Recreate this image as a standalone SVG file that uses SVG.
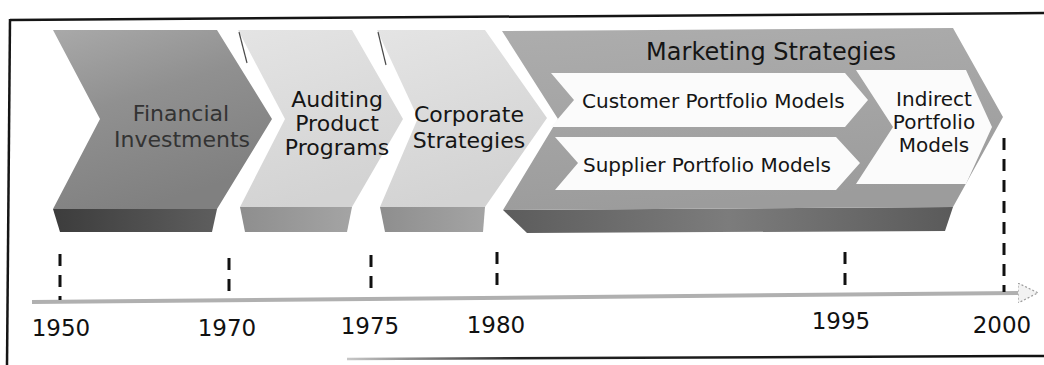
<svg xmlns="http://www.w3.org/2000/svg" width="1044" height="365" viewBox="0 0 1044 365">
  <defs>
    <style>
      .lbl { font-family: "DejaVu Sans", Verdana, "Liberation Sans", sans-serif; fill: #151515; }
      .stage { font-size: 22px; text-anchor: middle; }
      .dim { fill: #333333; }
      .sub { font-size: 20px; }
      .year { font-size: 23px; text-anchor: middle; fill: #111; }
      .tick { stroke: #111; stroke-width: 3; stroke-dasharray: 12 9; fill: none; }
      .inner { fill: #fbfbfb; }
      .edge { stroke: #4a4a4a; stroke-width: 1.2; fill: none; }
    </style>
    <linearGradient id="finFace" x1="0" y1="0" x2="0.4" y2="1">
      <stop offset="0" stop-color="#a9a9a9"/>
      <stop offset="0.45" stop-color="#909090"/>
      <stop offset="1" stop-color="#808080"/>
    </linearGradient>
    <linearGradient id="finBand" x1="0" y1="0" x2="1" y2="0">
      <stop offset="0" stop-color="#3c3c3c"/>
      <stop offset="1" stop-color="#5e5e5e"/>
    </linearGradient>
    <linearGradient id="lightFace" x1="0" y1="0" x2="0.3" y2="1">
      <stop offset="0" stop-color="#e4e4e4"/>
      <stop offset="1" stop-color="#d3d3d3"/>
    </linearGradient>
    <linearGradient id="lightBand" x1="0" y1="0" x2="1" y2="0">
      <stop offset="0" stop-color="#8e8e8e"/>
      <stop offset="1" stop-color="#a4a4a4"/>
    </linearGradient>
    <linearGradient id="mktFace" x1="0" y1="0" x2="0.2" y2="1">
      <stop offset="0" stop-color="#adadad"/>
      <stop offset="1" stop-color="#9c9c9c"/>
    </linearGradient>
    <linearGradient id="mktBand" x1="0" y1="0" x2="1" y2="0">
      <stop offset="0" stop-color="#5c5c5c"/>
      <stop offset="0.5" stop-color="#7c7c7c"/>
      <stop offset="1" stop-color="#5a5a5a"/>
    </linearGradient>
    <linearGradient id="baseLine" x1="347" y1="0" x2="1044" y2="0" gradientUnits="userSpaceOnUse">
      <stop offset="0" stop-color="#c8c8c8"/>
      <stop offset="0.25" stop-color="#222"/>
      <stop offset="1" stop-color="#111"/>
    </linearGradient>
    <marker id="axisHead" viewBox="0 0 10 10" refX="1" refY="5" markerWidth="5" markerHeight="5" orient="auto" markerUnits="strokeWidth">
      <path d="M0,0 L10,5 L0,10 Z" fill="#f2f2f2" stroke="#9a9a9a" stroke-width="0.6" stroke-dasharray="1 1"/>
    </marker>
  </defs>

  <rect width="1044" height="365" fill="#ffffff"/>

  <!-- frame -->
  <g id="frame" fill="none" stroke-linecap="butt">
    <line x1="10" y1="20" x2="1044" y2="13" stroke="#151515" stroke-width="2.5"/>
    <line x1="10" y1="19" x2="7" y2="365" stroke="#151515" stroke-width="2.5"/>
    <line x1="347" y1="359" x2="1044" y2="356" stroke="url(#baseLine)" stroke-width="2.5"/>
  </g>

  <!-- stage 1 -->
  <g id="financial">
    <polygon points="53,209 217,209 212,232 60,232" fill="url(#finBand)"/>
    <polygon points="53,30 217,30 272,119 217,209 53,209 100,119" fill="url(#finFace)"/>
    <text class="lbl stage dim" x="181" y="121">Financial</text>
    <text class="lbl stage dim" x="182" y="147">Investments</text>
  </g>

  <!-- stage 2 -->
  <g id="auditing">
    <polygon points="240,207 352,207 347,232 245,232" fill="url(#lightBand)"/>
    <polygon points="238,30 352,30 403,119 352,207 240,207 285,119" fill="url(#lightFace)"/>
    <line class="edge" x1="239" y1="32" x2="247" y2="63"/>
    <text class="lbl stage" x="337" y="107">Auditing</text>
    <text class="lbl stage" x="337" y="131">Product</text>
    <text class="lbl stage" x="337" y="155">Programs</text>
  </g>

  <!-- stage 3 -->
  <g id="corporate">
    <polygon points="380,207 485,207 483,232 385,232" fill="url(#lightBand)"/>
    <polygon points="377,30 485,30 547,118 485,207 380,207 418,118" fill="url(#lightFace)"/>
    <line class="edge" x1="378" y1="32" x2="386" y2="65"/>
    <text class="lbl stage" x="469" y="122">Corporate</text>
    <text class="lbl stage" x="469" y="148">Strategies</text>
  </g>

  <!-- stage 4 with its sub-models -->
  <g id="marketing">
    <polygon points="503,210 953,207 945,231 527,233" fill="url(#mktBand)"/>
    <polygon points="502,31 953,28 1003,117 953,207 503,210 558,119" fill="url(#mktFace)"/>
    <text class="lbl" x="771" y="60" font-size="24" text-anchor="middle">Marketing Strategies</text>
    <g id="customer">
      <polygon class="inner" points="551,73 845,73 868,100 845,127 551,127 574,100"/>
      <text class="lbl sub" x="582" y="108">Customer Portfolio Models</text>
    </g>
    <g id="supplier">
      <polygon class="inner" points="555,137 836,137 860,163 836,190 555,190 578,163"/>
      <text class="lbl sub" x="583" y="172">Supplier Portfolio Models</text>
    </g>
    <g id="indirect">
      <polygon class="inner" points="856,70 966,70 992,127 966,184 856,184 893,127"/>
      <text class="lbl sub" x="934" y="106" text-anchor="middle">Indirect</text>
      <text class="lbl sub" x="934" y="129" text-anchor="middle">Portfolio</text>
      <text class="lbl sub" x="934" y="152" text-anchor="middle">Models</text>
    </g>
  </g>

  <!-- time axis -->
  <g id="connectors">
    <line x1="32" y1="302" x2="1020" y2="293" stroke="#b0b0b0" stroke-width="4" marker-end="url(#axisHead)"/>
    <line class="tick" x1="60" y1="254" x2="60" y2="300"/>
    <line class="tick" x1="229" y1="258" x2="229" y2="298"/>
    <line class="tick" x1="371" y1="255" x2="371" y2="297"/>
    <line class="tick" x1="497" y1="252" x2="497" y2="287"/>
    <line class="tick" x1="845" y1="252" x2="845" y2="287"/>
    <line class="tick" x1="1004" y1="138" x2="1004" y2="292"/>
  </g>

  <g id="years">
    <text class="lbl year" x="61" y="336">1950</text>
    <text class="lbl year" x="227" y="336">1970</text>
    <text class="lbl year" x="370" y="334">1975</text>
    <text class="lbl year" x="496" y="333">1980</text>
    <text class="lbl year" x="841" y="329">1995</text>
    <text class="lbl year" x="1002" y="333">2000</text>
  </g>
</svg>
